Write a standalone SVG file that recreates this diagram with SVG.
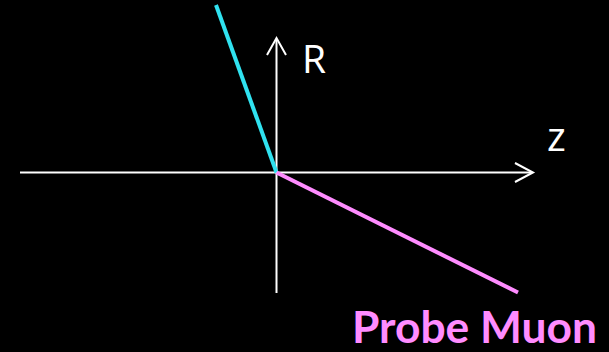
<svg xmlns="http://www.w3.org/2000/svg" width="609" height="352" viewBox="0 0 609 352">
<style>
.axis{stroke:#FFFFFF;stroke-width:2;fill:none}
.lbl{font-family:"Open Sans","Liberation Sans",sans-serif;fill:#FFFFFF}
</style>
<rect x="0" y="0" width="609" height="352" fill="#000000"/>
<g id="connectors">
<g id="z-axis">
<line class="axis" x1="20" y1="172.5" x2="532" y2="172.5"/>
<polyline class="axis" points="515,163 533,172.5 515,182"/>
</g>
<g id="r-axis">
<line class="axis" x1="276.5" y1="293" x2="276.5" y2="39"/>
<polyline class="axis" points="267,55 276.5,38 286,55"/>
</g>
<line id="cyan-track" x1="216" y1="5" x2="276.5" y2="172.5" stroke="#30E2F0" stroke-width="4"/>
<line id="probe-muon-track" x1="276.5" y1="172.5" x2="518" y2="292.5" stroke="#FF8CFF" stroke-width="4"/>
</g>
<g id="labels">
<text class="lbl" x="302" y="73" font-size="39">R</text>
<text class="lbl" x="547" y="151" font-size="40">z</text>
<text x="352" y="342.5" font-family="Lato,'Open Sans',sans-serif" font-weight="bold" font-size="43" fill="#FF8CFF" textLength="245" lengthAdjust="spacingAndGlyphs">Probe Muon</text>
</g>
</svg>
